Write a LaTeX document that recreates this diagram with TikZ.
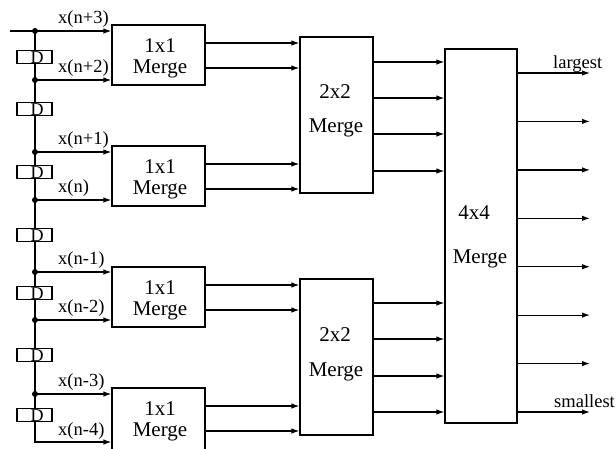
\documentclass[tikz,border=0pt]{standalone}
\usepackage{fontspec}
\setmainfont{Liberation Serif}
\usetikzlibrary{arrows.meta}
\begin{document}
\begin{tikzpicture}[x=1pt,y=-1pt,
  wire/.style={line width=1.2pt},
  arr/.style={line width=1.2pt,-{Latex[length=8pt,width=5.5pt]}},
  box/.style={draw,line width=1.2pt,inner sep=0pt},
  dbox/.style={draw,fill=white,line width=1.2pt,minimum width=35pt,minimum height=13pt,inner sep=0pt},
  dtxt/.style={font=\fontsize{18}{18}\selectfont,inner sep=0pt},
  lab/.style={font=\fontsize{18.5}{18.5}\selectfont,inner sep=0pt,anchor=base west},
  olab/.style={font=\fontsize{18.5}{18.5}\selectfont,inner sep=0pt,anchor=base west},
  btxt/.style={font=\fontsize{21}{21}\selectfont,inner sep=0pt},
  dot/.style={circle,fill,inner sep=0pt,minimum size=6pt}]
\useasboundingbox (0,0) rectangle (616,448);
\clip (0,0) rectangle (616,448);
% 1x1 merge boxes
\node[box,minimum width=93pt,minimum height=60pt] (m1) at (158.5,55) {};
\node[box,minimum width=93pt,minimum height=60pt] (m2) at (158.5,176) {};
\node[box,minimum width=93pt,minimum height=60pt] (m3) at (158.5,297) {};
\node[box,minimum width=93pt,minimum height=62pt] (m4) at (158.5,419) {};
\node[btxt] (t1a) at (160,46) {1x1};
\node[btxt] (t1b) at (160,69) {Merge};
\node[btxt] (t2a) at (160,167) {1x1};
\node[btxt] (t2b) at (160,190) {Merge};
\node[btxt] (t3a) at (160,288) {1x1};
\node[btxt] (t3b) at (160,311) {Merge};
\node[btxt] (t4a) at (160,409) {1x1};
\node[btxt] (t4b) at (160,432) {Merge};
% 2x2 merge boxes
\node[box,minimum width=73pt,minimum height=156pt] (u) at (336.5,115) {};
\node[box,minimum width=73pt,minimum height=156pt] (l) at (336.5,357) {};
\node[btxt] (ua) at (335,92) {2x2};
\node[btxt] (ub) at (336,128) {Merge};
\node[btxt] (la) at (335,335) {2x2};
\node[btxt] (lb) at (336,372) {Merge};
% 4x4 merge box
\node[box,minimum width=72pt,minimum height=374pt] (f) at (481,236) {};
\node[btxt] (fa) at (474,213) {4x4};
\node[btxt] (fb) at (480,259) {Merge};
% input taps
\coordinate (in) at (10,31);
\coordinate (c1) at (35,31);
\coordinate (c2) at (35,80);
\coordinate (c3) at (35,152);
\coordinate (c4) at (35,200);
\coordinate (c5) at (35,272);
\coordinate (c6) at (35,320);
\coordinate (c7) at (35,394);
\coordinate (c8) at (35,442);
\draw[wire] (in) -- (c1);
\draw[arr] (c1) -- (c8) -- (c8 -| m4.west);
\draw[arr] (c1) -- (c1 -| m1.west);
\draw[arr] (c2) -- (c2 -| m1.west);
\draw[arr] (c3) -- (c3 -| m2.west);
\draw[arr] (c4) -- (c4 -| m2.west);
\draw[arr] (c5) -- (c5 -| m3.west);
\draw[arr] (c6) -- (c6 -| m3.west);
\draw[arr] (c7) -- (c7 -| m4.west);
\foreach \i in {1,...,7} \node[dot] (p\i) at (c\i) {};
% delay elements
\foreach \i/\y in {1/57,2/109,3/172,4/235,5/293,6/355,7/415} {
  \node[dbox] (d\i) at (34.5,\y) {};
  \node[dtxt] (dt\i) at (37,\y+0.5) {D};
}
% input labels
\node[lab] (x1) at (58,23) {x(n+3)};
\node[lab] (x2) at (58,72) {x(n+2)};
\node[lab] (x3) at (58,144) {x(n+1)};
\node[lab] (x4) at (58,192) {x(n)};
\node[lab] (x5) at (58,264) {x(n-1)};
\node[lab] (x6) at (58,312) {x(n-2)};
\node[lab] (x7) at (58,386) {x(n-3)};
\node[lab] (x8) at (58,435) {x(n-4)};
% 1x1 -> 2x2
\foreach \y in {43,68} \draw[arr] (m1.east |- 0,\y) -- (u.west |- 0,\y);
\foreach \y in {164,189} \draw[arr] (m2.east |- 0,\y) -- (u.west |- 0,\y);
\foreach \y in {285,310} \draw[arr] (m3.east |- 0,\y) -- (l.west |- 0,\y);
\foreach \y in {406,431} \draw[arr] (m4.east |- 0,\y) -- (l.west |- 0,\y);
% 2x2 -> 4x4
\foreach \y in {62,98,134,171} \draw[arr] (u.east |- 0,\y) -- (f.west |- 0,\y);
\foreach \y in {303,339,376,412} \draw[arr] (l.east |- 0,\y) -- (f.west |- 0,\y);
% 4x4 outputs
\foreach \i/\y in {1/73,2/121.4,3/169.9,4/218.3,5/266.7,6/315.1,7/363.6,8/412} {
  \coordinate (o\i) at (590,\y);
  \draw[arr] (f.east |- o\i) -- (o\i);
}
\node[olab] (lg) at (553,68) {largest};
\node[olab] (sm) at (554,407) {smallest};
\end{tikzpicture}
\end{document}
